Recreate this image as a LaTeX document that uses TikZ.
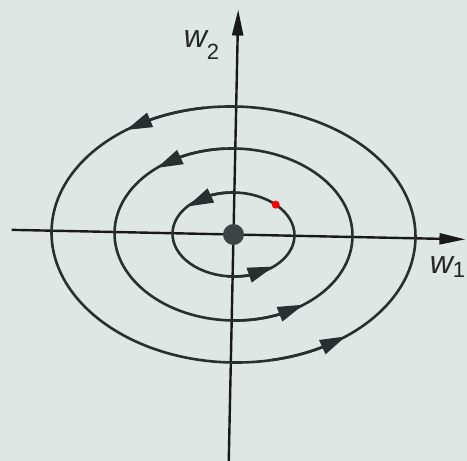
\documentclass[tikz,border=0pt]{standalone}
\usepackage{fontspec}
\newfontfamily\labelfont{Liberation Sans}
\usetikzlibrary{arrows.meta,bending}
\definecolor{paper}{RGB}{222,231,227}
\definecolor{orbitcol}{RGB}{38,48,47}
\newcommand\axlabel[3]{{\itshape #1}\raisebox{#3}{\upshape\fontsize{22}{22}\selectfont #2}}
\begin{document}
\begin{tikzpicture}[x=1pt, y=1pt,
    axis/.style={line width=2.4pt, draw=black!90,
                 -{Triangle[length=26pt, width=11pt]}},
    orbit/.style={line width=2.6pt, draw=orbitcol},
    flowtip/.style={orbit, -{Triangle[length=26pt, width=15pt, flex]}},
    lbl/.style={inner sep=0pt, text=black!85,
                font=\labelfont\fontsize{32}{32}\selectfont}]
  \fill[paper] (-233.5,-226.5) rectangle (233.5,234.5);
  \clip (-233.5,-226.5) rectangle (233.5,234.5);
  \begin{scope}[rotate=-1.2]
    \coordinate (o) at (0,0);
    \draw[axis] (-222,0) -- (232,0);
    \draw[axis] (0,-240) -- (0,225);
    % three orbits, each with two arrow heads
    \foreach \a/\b/\ts/\te/\bs/\be in {61/42/95/140/-95/-48,
                                       119/86/95/131/-88/-53,
                                       182/128/100/127/-77/-51} {
      \draw[orbit] (o) ellipse ({\a} and {\b});
      \draw[flowtip] (\ts:{\a} and {\b}) arc[start angle=\ts, end angle=\te, x radius=\a, y radius=\b];
      \draw[flowtip] (\bs:{\a} and {\b}) arc[start angle=\bs, end angle=\be, x radius=\a, y radius=\b];
    }
    \fill[orbitcol!90] (o) circle[radius=10.5];
    \fill[red] (47:61 and 42) circle[radius=4];
  \end{scope}
  \node[lbl] (w2) at (-32,189.5) {\axlabel{w}{2}{-12pt}};
  \node[lbl] (w1) at (214,-33) {\axlabel{w}{1}{-4pt}};
\end{tikzpicture}
\end{document}
